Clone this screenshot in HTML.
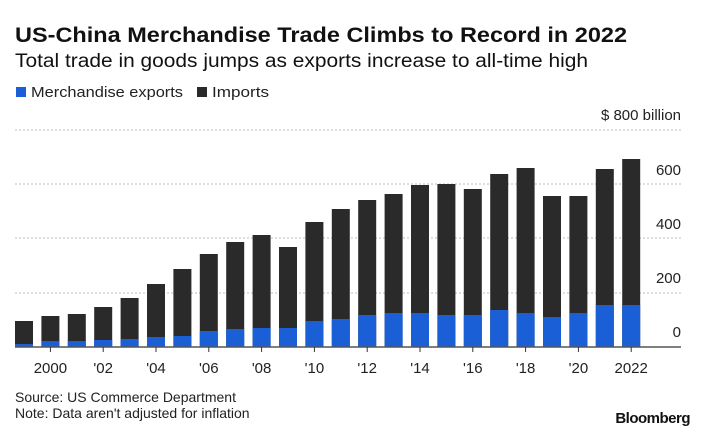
<!DOCTYPE html>
<html><head><meta charset="utf-8"><style>
html,body{margin:0;padding:0;background:#fff;}
svg{display:block;font-family:"Liberation Sans",sans-serif;}
</style></head><body>
<svg width="702" height="430" viewBox="0 0 702 430" xmlns="http://www.w3.org/2000/svg">
<rect width="702" height="430" fill="#fff"/>
<text x="15" y="42" font-size="21" font-weight="bold" fill="#111" textLength="612" lengthAdjust="spacingAndGlyphs">US-China Merchandise Trade Climbs to Record in 2022</text>
<text x="15" y="67" font-size="19" fill="#111" textLength="573" lengthAdjust="spacingAndGlyphs">Total trade in goods jumps as exports increase to all-time high</text>
<rect x="16" y="87" width="10" height="10" fill="#1a5fd6"/>
<text x="31" y="97" font-size="15" fill="#222" textLength="152" lengthAdjust="spacingAndGlyphs">Merchandise exports</text>
<rect x="197" y="87" width="10" height="10" fill="#2a2a2a"/>
<text x="212" y="97" font-size="15" fill="#222" textLength="57" lengthAdjust="spacingAndGlyphs">Imports</text>
<g stroke="#bbb" stroke-width="1" stroke-dasharray="2,2">
<line x1="15" y1="130" x2="681" y2="130"/>
<line x1="15" y1="184" x2="681" y2="184"/>
<line x1="15" y1="238" x2="681" y2="238"/>
<line x1="15" y1="293" x2="681" y2="293"/>
</g>
<g font-size="15" fill="#222" text-anchor="end">
<text x="681" y="120">$ 800 billion</text>
<text x="681" y="175">600</text>
<text x="681" y="229">400</text>
<text x="681" y="283">200</text>
<text x="681" y="337">0</text>
</g>
<g id="bars"></g>
<line x1="15" y1="347" x2="681" y2="347" stroke="#555" stroke-width="1.5"/>
<g id="ticks" stroke="#333" stroke-width="1"></g>
<g id="labels" font-size="15" fill="#222" text-anchor="middle"></g>
<text x="15" y="402" font-size="14" fill="#222">Source: US Commerce Department</text>
<text x="15" y="418" font-size="14" fill="#222">Note: Data aren't adjusted for inflation</text>
<text x="690" y="423" font-size="15" font-weight="bold" fill="#111" text-anchor="end" letter-spacing="-0.5">Bloomberg</text>
<script>
var tops=[321,316,314,307,298,284,269,254,242,235,247,222,209,200,194,185,184,189,174,168,196,196,169,159];
var ex=[344,341,341,340,339,337,336,331,329,328,328,321,319,315,313,313,315,315,310,313,317,313,305,305];
var ns="http://www.w3.org/2000/svg",b=document.getElementById("bars"),t=document.getElementById("ticks"),l=document.getElementById("labels");
function el(n,a,p){var e=document.createElementNS(ns,n);for(var k in a)e.setAttribute(k,a[k]);p.appendChild(e);return e;}
for(var i=0;i<24;i++){var x=15+26.4*i;
el("rect",{x:x,y:tops[i],width:18,height:347-tops[i],fill:"#2a2a2a"},b);
el("rect",{x:x,y:ex[i],width:18,height:347-ex[i],fill:"#1a5fd6"},b);
var yr=1999+i;if(yr%2==0){var cx=x+9;el("line",{x1:cx,y1:347,x2:cx,y2:352},t);
var tx=el("text",{x:cx,y:373},l);tx.textContent=(yr==2000||yr==2022)?String(yr):"'"+String(yr).slice(2);}}
</script>
</svg>
</body></html>
